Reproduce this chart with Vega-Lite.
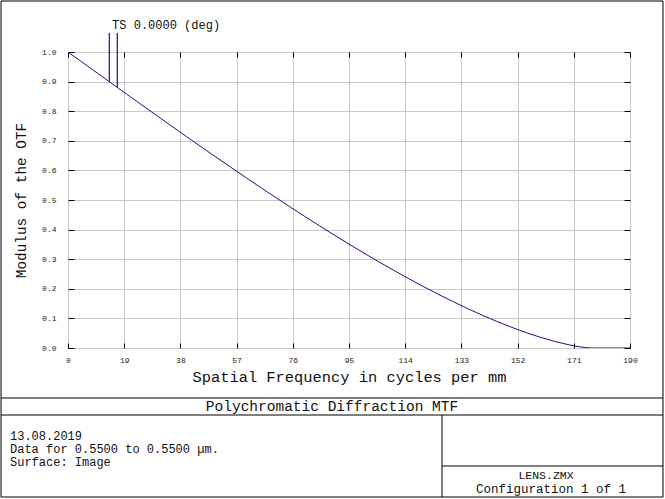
{
  "$schema": "https://vega.github.io/schema/vega-lite/v6.json",
  "width": 562,
  "height": 296,
  "autosize": {"type": "none"},
  "padding": {"left": 68, "top": 52, "right": 35, "bottom": 151},
  "background": "white",
  "config": {
    "view": {"stroke": "black", "strokeWidth": 1},
    "font": "Liberation Mono",
    "axis": {
      "labelFont": "Liberation Mono",
      "labelFontSize": 8,
      "labelColor": "#222222",
      "labelOverlap": false,
      "labelFlush": false,
      "labelBound": false,
      "titleFont": "Liberation Mono",
      "titleFontWeight": "normal",
      "titleColor": "#111111",
      "domain": false,
      "tickColor": "black",
      "tickWidth": 1,
      "gridColor": "#c8c8c8",
      "gridWidth": 1
    }
  },
  "datasets": {
    "curve": [
      {"nu": 0, "mtf": 1.0},
      {"nu": 5, "mtf": 0.96404},
      {"nu": 10, "mtf": 0.9281},
      {"nu": 15, "mtf": 0.89223},
      {"nu": 20, "mtf": 0.85644},
      {"nu": 25, "mtf": 0.82076},
      {"nu": 30, "mtf": 0.78523},
      {"nu": 35, "mtf": 0.74988},
      {"nu": 40, "mtf": 0.71473},
      {"nu": 45, "mtf": 0.67982},
      {"nu": 50, "mtf": 0.64517},
      {"nu": 55, "mtf": 0.61082},
      {"nu": 60, "mtf": 0.57681},
      {"nu": 65, "mtf": 0.54316},
      {"nu": 70, "mtf": 0.50991},
      {"nu": 75, "mtf": 0.47711},
      {"nu": 80, "mtf": 0.44477},
      {"nu": 85, "mtf": 0.41295},
      {"nu": 90, "mtf": 0.38168},
      {"nu": 95, "mtf": 0.35102},
      {"nu": 100, "mtf": 0.32101},
      {"nu": 105, "mtf": 0.29169},
      {"nu": 110, "mtf": 0.26311},
      {"nu": 115, "mtf": 0.23535},
      {"nu": 120, "mtf": 0.20845},
      {"nu": 125, "mtf": 0.18249},
      {"nu": 130, "mtf": 0.15755},
      {"nu": 135, "mtf": 0.13371},
      {"nu": 140, "mtf": 0.11107},
      {"nu": 145, "mtf": 0.08973},
      {"nu": 150, "mtf": 0.06986},
      {"nu": 155, "mtf": 0.05161},
      {"nu": 160, "mtf": 0.03521},
      {"nu": 165, "mtf": 0.02097},
      {"nu": 170, "mtf": 0.00938},
      {"nu": 173, "mtf": 0.00406},
      {"nu": 175, "mtf": 0.00144},
      {"nu": 177, "mtf": 0.0},
      {"nu": 190, "mtf": 0.0}
    ],
    "legend": [
      {"x": 13.96, "top": 1.064, "bottom": 0.8996},
      {"x": 16.66, "top": 1.064, "bottom": 0.8803}
    ]
  },
  "resolve": {"axis": {"x": "independent", "y": "independent"}},
  "layer": [
    {
      "data": {"name": "curve"},
      "mark": {"type": "line", "color": "#14148c", "strokeWidth": 1, "clip": true},
      "encoding": {
        "x": {
          "field": "nu",
          "type": "quantitative",
          "scale": {"domain": [0, 190], "nice": false, "zero": false},
          "axis": {
            "orient": "bottom",
            "values": [0, 19, 38, 57, 76, 95, 114, 133, 152, 171, 190],
            "grid": true,
            "ticks": true,
            "tickSize": -5,
            "labelPadding": 13,
            "title": "Spatial Frequency in cycles per mm",
            "titleFontSize": 15.4,
            "titlePadding": 5
          }
        },
        "y": {
          "field": "mtf",
          "type": "quantitative",
          "scale": {"domain": [0, 1], "nice": false, "zero": false},
          "axis": {
            "orient": "left",
            "values": [0, 0.1, 0.2, 0.3, 0.4, 0.5, 0.6, 0.7, 0.8, 0.9, 1.0],
            "format": ".1f",
            "grid": true,
            "ticks": true,
            "tickSize": -6,
            "labelPadding": 18,
            "title": "Modulus of the OTF",
            "titleFontSize": 14.4,
            "titlePadding": 13
          }
        }
      }
    },
    {
      "data": {"name": "legend"},
      "mark": {"type": "rule", "color": "#14148c", "strokeWidth": 1.2},
      "encoding": {
        "x": {
          "field": "x",
          "type": "quantitative",
          "axis": {
            "orient": "top",
            "values": [0, 19, 38, 57, 76, 95, 114, 133, 152, 171, 190],
            "labels": false,
            "grid": false,
            "ticks": true,
            "tickSize": -5,
            "title": null
          }
        },
        "y": {
          "field": "top",
          "type": "quantitative",
          "axis": {
            "orient": "right",
            "values": [0, 0.1, 0.2, 0.3, 0.4, 0.5, 0.6, 0.7, 0.8, 0.9, 1.0],
            "labels": false,
            "grid": false,
            "ticks": true,
            "tickSize": -6,
            "title": null
          }
        },
        "y2": {"field": "bottom"}
      }
    },
    {
      "data": {"values": [{}]},
      "mark": {"type": "text", "text": "TS 0.0000 (deg)", "font": "Liberation Mono", "fontSize": 12, "align": "left", "baseline": "middle", "color": "#111111"},
      "encoding": {
        "x": {"datum": 14.9, "type": "quantitative", "axis": null},
        "y": {"datum": 1.0912, "type": "quantitative", "axis": null}
      }
    },
    {
      "data": {"values": [{}]},
      "mark": {"type": "rect", "fillOpacity": 0, "stroke": "black", "strokeWidth": 1},
      "encoding": {
        "x": {"datum": -22.65, "type": "quantitative", "axis": null},
        "x2": {"datum": 201.16},
        "y": {"datum": 1.1723, "type": "quantitative", "axis": null},
        "y2": {"datum": -0.5034}
      }
    },
    {
      "data": {"values": [{}]},
      "mark": {"type": "rule", "color": "black", "strokeWidth": 1},
      "encoding": {
        "x": {"datum": -22.65, "type": "quantitative", "axis": null},
        "x2": {"datum": 201.16},
        "y": {"datum": -0.1689, "type": "quantitative", "axis": null}
      }
    },
    {
      "data": {"values": [{}]},
      "mark": {"type": "rule", "color": "black", "strokeWidth": 1},
      "encoding": {
        "x": {"datum": -22.65, "type": "quantitative", "axis": null},
        "x2": {"datum": 201.16},
        "y": {"datum": -0.2264, "type": "quantitative", "axis": null}
      }
    },
    {
      "data": {"values": [{}]},
      "mark": {"type": "rule", "color": "black", "strokeWidth": 1},
      "encoding": {
        "x": {"datum": 126.44, "type": "quantitative", "axis": null},
        "y": {"datum": -0.2264, "type": "quantitative", "axis": null},
        "y2": {"datum": -0.5034}
      }
    },
    {
      "data": {"values": [{}]},
      "mark": {"type": "rule", "color": "black", "strokeWidth": 1},
      "encoding": {
        "x": {"datum": 126.44, "type": "quantitative", "axis": null},
        "x2": {"datum": 201.16},
        "y": {"datum": -0.3986, "type": "quantitative", "axis": null}
      }
    },
    {
      "data": {"values": [{}]},
      "mark": {"type": "text", "text": "Polychromatic Diffraction MTF", "font": "Liberation Mono", "fontSize": 14.5, "align": "center", "baseline": "middle", "color": "#111111"},
      "encoding": {
        "x": {"datum": 89.25, "type": "quantitative", "axis": null},
        "y": {"datum": -0.1993, "type": "quantitative", "axis": null}
      }
    },
    {
      "data": {"values": [{}]},
      "mark": {"type": "text", "text": "13.08.2019", "font": "Liberation Mono", "fontSize": 12, "align": "left", "baseline": "middle", "color": "#111111"},
      "encoding": {
        "x": {"datum": -19.61, "type": "quantitative", "axis": null},
        "y": {"datum": -0.2973, "type": "quantitative", "axis": null}
      }
    },
    {
      "data": {"values": [{}]},
      "mark": {"type": "text", "text": "Data for 0.5500 to 0.5500 µm.", "font": "Liberation Mono", "fontSize": 12, "align": "left", "baseline": "middle", "color": "#111111"},
      "encoding": {
        "x": {"datum": -19.61, "type": "quantitative", "axis": null},
        "y": {"datum": -0.3412, "type": "quantitative", "axis": null}
      }
    },
    {
      "data": {"values": [{}]},
      "mark": {"type": "text", "text": "Surface: Image", "font": "Liberation Mono", "fontSize": 12, "align": "left", "baseline": "middle", "color": "#111111"},
      "encoding": {
        "x": {"datum": -19.61, "type": "quantitative", "axis": null},
        "y": {"datum": -0.3851, "type": "quantitative", "axis": null}
      }
    },
    {
      "data": {"values": [{}]},
      "mark": {"type": "text", "text": "LENS.ZMX", "font": "Liberation Mono", "fontSize": 11.5, "align": "center", "baseline": "middle", "color": "#111111"},
      "encoding": {
        "x": {"datum": 161.6, "type": "quantitative", "axis": null},
        "y": {"datum": -0.434, "type": "quantitative", "axis": null}
      }
    },
    {
      "data": {"values": [{}]},
      "mark": {"type": "text", "text": "Configuration 1 of 1", "font": "Liberation Mono", "fontSize": 12.5, "align": "center", "baseline": "middle", "color": "#111111"},
      "encoding": {
        "x": {"datum": 163.3, "type": "quantitative", "axis": null},
        "y": {"datum": -0.4775, "type": "quantitative", "axis": null}
      }
    }
  ]
}
